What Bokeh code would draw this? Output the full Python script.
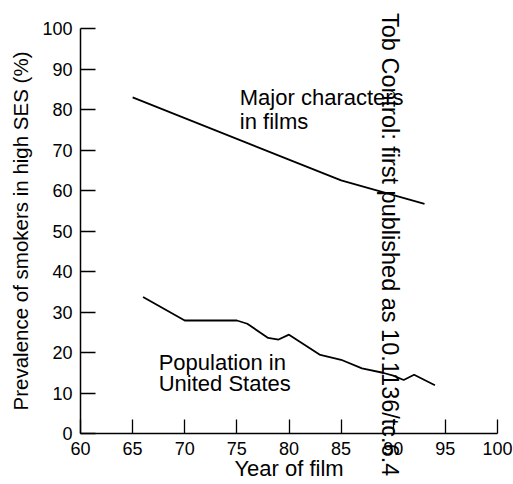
from bokeh.plotting import figure
from bokeh.models import Range1d, FixedTicker, Label, Div
from bokeh.embed import file_html
from bokeh.resources import INLINE

# Data
film_years = [65, 85, 93]
film_prev = [83.0, 62.5, 56.7]

pop_years = [66, 70, 75, 76, 78, 79, 80, 83, 85, 87, 89, 90, 91, 92, 94]
pop_prev = [33.7, 27.9, 27.9, 27.1, 23.6, 23.2, 24.4, 19.4, 18.2, 16.1, 15.0, 14.3, 13.2, 14.5, 11.9]

x_ticks = [60, 65, 70, 75, 80, 85, 90, 95, 100]
y_ticks = [0, 10, 20, 30, 40, 50, 60, 70, 80, 90, 100]

FONT = "Liberation Sans"

p = figure(width=513, height=484, output_backend="svg", toolbar_location=None,
           x_range=Range1d(60, 100), y_range=Range1d(0, 100),
           min_border_left=80, min_border_right=16, min_border_top=28, min_border_bottom=51)
p.outline_line_color = None
p.grid.visible = False
p.background_fill_color = "white"
p.border_fill_color = "white"

p.line(film_years, film_prev, line_color="black", line_width=1.8)
p.line(pop_years, pop_prev, line_color="black", line_width=1.8)

for ax in (p.xaxis[0], p.yaxis[0]):
    ax.axis_line_color = "black"
    ax.axis_line_width = 1.5
    ax.major_tick_line_color = "black"
    ax.major_tick_line_width = 1.3
    ax.minor_tick_line_color = None
    ax.major_tick_out = 0
    ax.major_label_text_font = FONT
    ax.major_label_text_font_size = "18px"
    ax.major_label_text_color = "black"
    ax.axis_label_text_font = FONT
    ax.axis_label_text_font_style = "normal"
    ax.axis_label_text_color = "black"

p.xaxis[0].ticker = FixedTicker(ticks=x_ticks)
p.yaxis[0].ticker = FixedTicker(ticks=y_ticks)
p.xaxis[0].major_tick_in = 14
p.yaxis[0].major_tick_in = 15
p.xaxis[0].major_label_standoff = 8
p.yaxis[0].major_label_standoff = 8
p.xaxis[0].axis_label = "Year of film"
p.yaxis[0].axis_label = "Prevalence of smokers in high SES (%)"
p.xaxis[0].axis_label_text_font_size = "22px"
p.yaxis[0].axis_label_text_font_size = "20.5px"
p.xaxis[0].axis_label_standoff = -2
p.yaxis[0].axis_label_standoff = 7

def add_text(x, y, txt, size="22px"):
    p.add_layout(Label(x=x, y=y, text=txt, text_font=FONT, text_font_size=size,
                       text_color="black", text_baseline="alphabetic", text_align="left"))

add_text(75.28, 82.96, "Major characters")
add_text(75.28, 76.96, "in films")
add_text(67.5, 17.6, "Population in")
add_text(67.5, 12.27, "United States")

# Vertical watermark of the scanned source, as a floating element over the plot
watermark = Div(text="Tob Control: first published as 10.1136/tc.6.4",
                styles={"position": "absolute", "left": "403px", "top": "13px",
                        "transform-origin": "0 0", "transform": "rotate(90deg)",
                        "white-space": "nowrap", "font-family": FONT,
                        "font-size": "23.5px", "line-height": "26px",
                        "color": "black", "pointer-events": "none", "z-index": "10"})
p.elements.append(watermark)

open("out.html", "w").write(file_html(p, INLINE))
